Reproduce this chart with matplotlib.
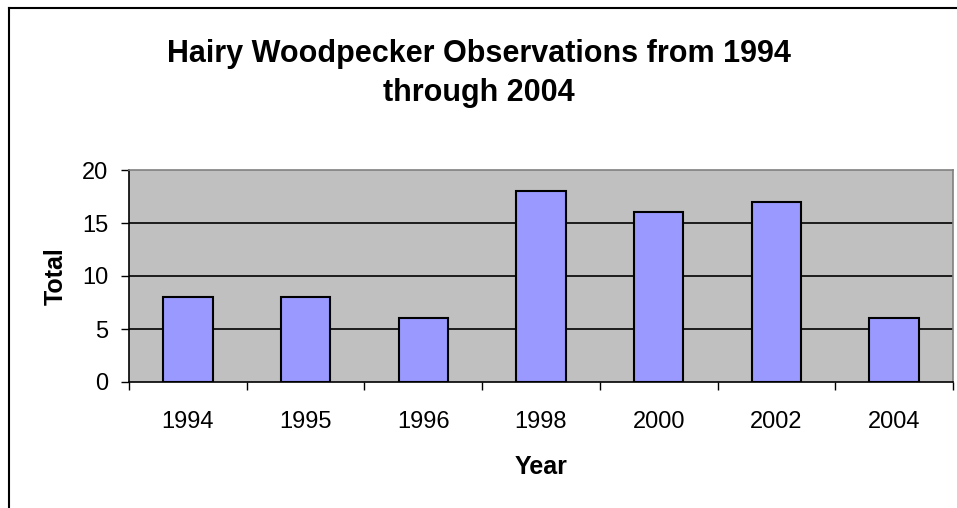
import numpy as np
import matplotlib
matplotlib.use('Agg')
import matplotlib.pyplot as plt
from matplotlib.lines import Line2D

years = ['1994', '1995', '1996', '1998', '2000', '2002', '2004']
totals = [8, 8, 6, 18, 16, 17, 6]
yticks = [0, 5, 10, 15, 20]

plt.rcParams['font.family'] = ['Liberation Sans', 'DejaVu Sans']

fig = plt.figure(figsize=(9.57, 5.08), dpi=100)
ax = fig.add_axes([129 / 957, 1 - 382 / 508, 824 / 957, 212 / 508])

x = np.arange(len(years))
ax.set_facecolor('#c0c0c0')
ax.bar(x, totals, width=0.42, color='#9999ff', edgecolor='black', linewidth=1.5, zorder=3)

ax.set_xlim(-0.5, len(years) - 0.5)
ax.set_ylim(0, 20)
ax.set_yticks(yticks)
ax.set_yticklabels([str(v) for v in yticks], fontsize=17)
ax.set_xticks(x)
ax.set_xticklabels(years, fontsize=17)
ax.tick_params(axis='x', length=0, pad=21)
ax.set_xticks(np.arange(len(years) + 1) - 0.5, minor=True)
ax.tick_params(axis='x', which='minor', length=6, width=1, color='black')
ax.tick_params(axis='y', length=6, width=1, pad=9)

for v in yticks[1:-1]:
    ax.axhline(v, color='black', linewidth=1.2, zorder=1)

ax.spines['top'].set_color('#808080')
ax.spines['right'].set_color('#808080')
for s in ['top', 'right', 'left', 'bottom']:
    ax.spines[s].set_linewidth(1.2)

ax.set_xlabel('Year', fontsize=18, fontweight='bold', labelpad=16)
ax.set_ylabel('Total', fontsize=18, fontweight='bold', labelpad=10)

fig.text(479 / 957, 1 - 39 / 508, 'Hairy Woodpecker Observations from 1994\nthrough 2004',
         ha='center', va='top', fontsize=22, fontweight='bold', linespacing=1.4)

# chart border (left and top edges visible)
fig.add_artist(Line2D([9 / 957, 9 / 957], [0, 1 - 8 / 508], color='black', linewidth=1.5,
                      transform=fig.transFigure))
fig.add_artist(Line2D([9 / 957, 1], [1 - 8 / 508, 1 - 8 / 508], color='black', linewidth=1.5,
                      transform=fig.transFigure))

fig.savefig('out.png', dpi=100)
